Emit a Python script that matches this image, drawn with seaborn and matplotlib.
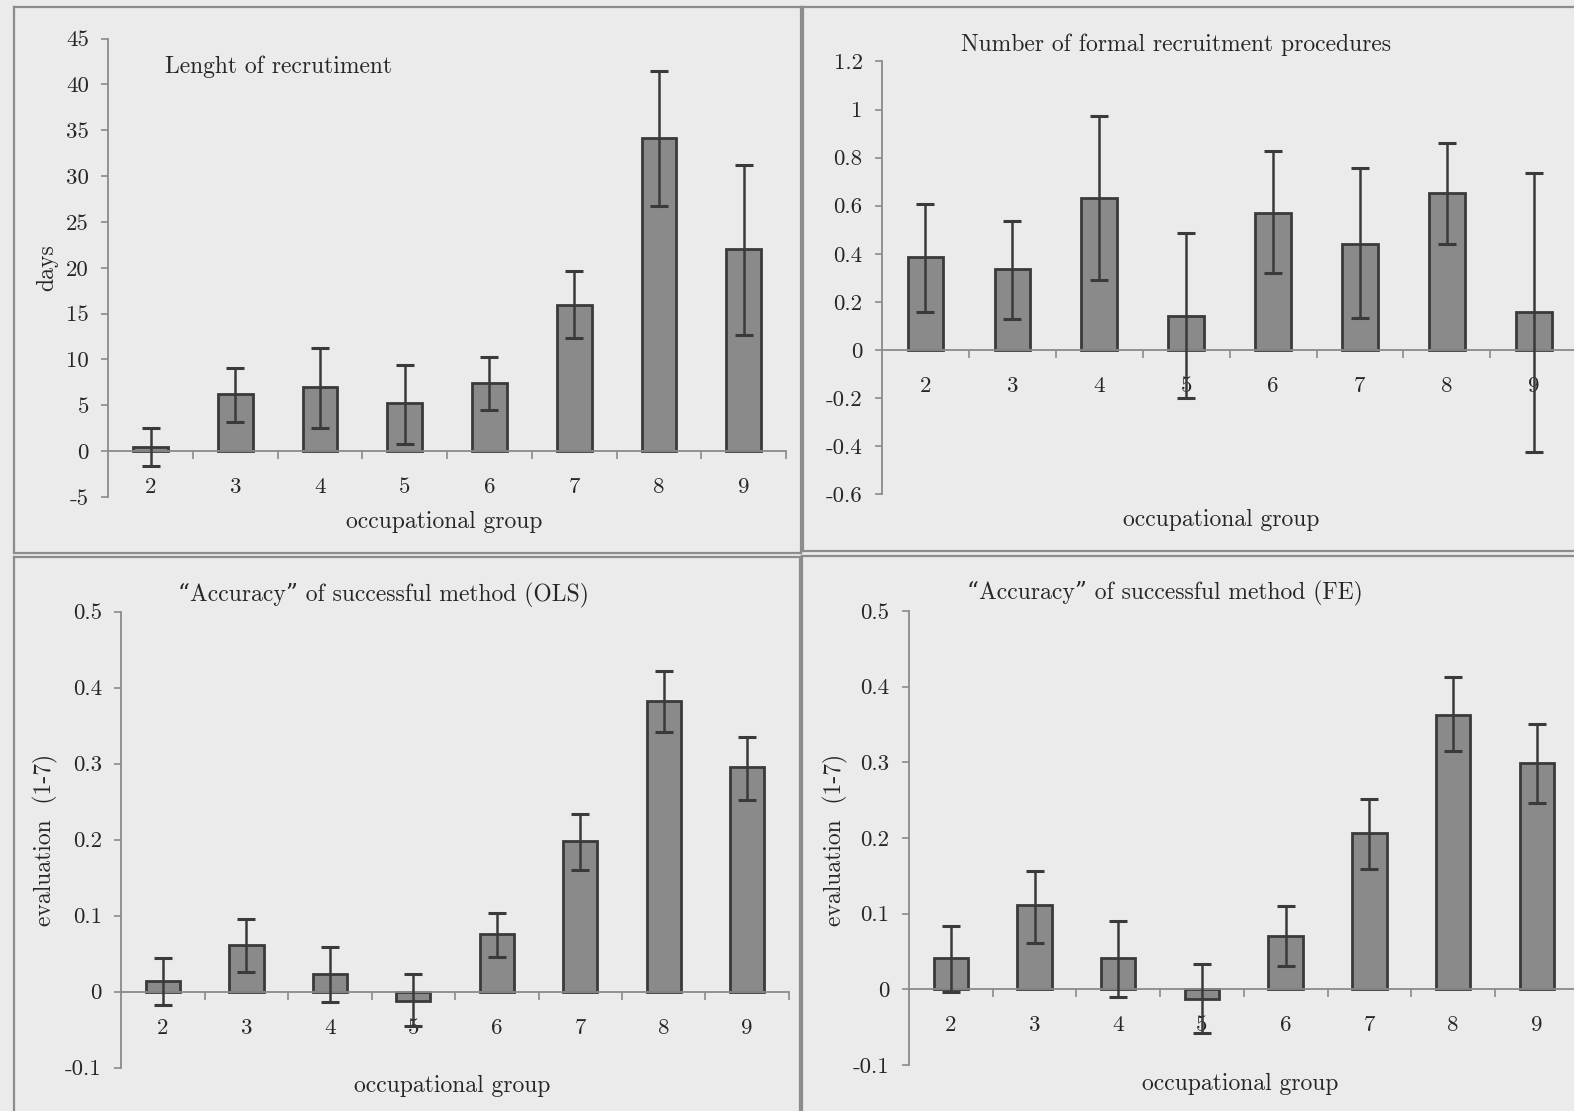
import numpy as np
import pandas as pd
import matplotlib
matplotlib.use("Agg")
import matplotlib.pyplot as plt
from matplotlib.lines import Line2D
import seaborn as sns

# ---------------- data ----------------
groups = ["2", "3", "4", "5", "6", "7", "8", "9"]

length_vals = [0.45, 6.2, 7.0, 5.25, 7.4, 15.95, 34.2, 22.0]
length_lo = [-1.65, 3.2, 2.5, 0.75, 4.5, 12.35, 26.75, 12.65]
length_hi = [2.5, 9.05, 11.3, 9.45, 10.25, 19.6, 41.5, 31.25]

formal_vals = [0.386, 0.337, 0.632, 0.142, 0.571, 0.442, 0.653, 0.157]
formal_lo = [0.16, 0.13, 0.291, -0.20, 0.321, 0.133, 0.441, -0.425]
formal_hi = [0.605, 0.537, 0.971, 0.487, 0.826, 0.756, 0.861, 0.738]

ols_vals = [0.0137, 0.062, 0.023, -0.012, 0.076, 0.198, 0.3825, 0.295]
ols_lo = [-0.018, 0.026, -0.014, -0.045, 0.046, 0.160, 0.342, 0.252]
ols_hi = [0.044, 0.095, 0.059, 0.023, 0.103, 0.234, 0.422, 0.335]

fe_vals = [0.041, 0.111, 0.041, -0.013, 0.071, 0.206, 0.363, 0.299]
fe_lo = [-0.003, 0.062, -0.010, -0.058, 0.031, 0.159, 0.315, 0.246]
fe_hi = [0.084, 0.157, 0.090, 0.034, 0.110, 0.252, 0.412, 0.350]

length_ticks = [-5, 0, 5, 10, 15, 20, 25, 30, 35, 40, 45]
length_ticklabels = ["-5", "0", "5", "10", "15", "20", "25", "30", "35", "40", "45"]
formal_ticks = [-0.6, -0.4, -0.2, 0, 0.2, 0.4, 0.6, 0.8, 1.0, 1.2]
formal_ticklabels = ["-0.6", "-0.4", "-0.2", "0", "0.2", "0.4", "0.6", "0.8", "1", "1.2"]
acc_ticks = [-0.1, 0, 0.1, 0.2, 0.3, 0.4, 0.5]
acc_ticklabels = ["-0.1", "0", "0.1", "0.2", "0.3", "0.4", "0.5"]

title_length = "Lenght of recrutiment"
title_formal = "Number of formal recruitment procedures"
title_ols = "\u201cAccuracy\u201d of successful method (OLS)"
title_fe = "\u201cAccuracy\u201d of successful method (FE)"
xlabel = "occupational group"
ylabel_days = "days"
ylabel_eval = "evaluation  (1-7)"

# ---------------- style ----------------
W, H = 1574, 1111
BG = "#ebebeb"
BAR = "#8a8a8a"
EDGE = "#3a3a3a"
AXC = "#8a8a8a"
TXT = "#262626"
FS = 16.5
FS_T = 17

plt.rcParams["font.family"] = ["cmr10", "DejaVu Serif"]
plt.rcParams["axes.unicode_minus"] = False
plt.rcParams["text.color"] = TXT

fig = plt.figure(figsize=(W / 100, H / 100), dpi=100, facecolor=BG)


def px_axes(l, t, r, b):
    ax = fig.add_axes([l / W, 1 - b / H, (r - l) / W, (b - t) / H])
    ax.set_facecolor("none")
    return ax


def ftext(x, y, s, **kw):
    fig.text(x / W, 1 - y / H, s, fontsize=FS_T, color=TXT, va="center", **kw)


def draw_panel(ax, vals, lo, hi, ylim, xmax, ticks, ticklabels):
    df = pd.DataFrame({"group": groups, "value": vals})
    sns.barplot(data=df, x="group", y="value", ax=ax, color=BAR, saturation=1,
                width=0.41, edgecolor=EDGE, linewidth=2.0, errorbar=None, zorder=2)
    v = np.array(vals)
    yerr = [v - np.array(lo), np.array(hi) - v]
    ax.errorbar(np.arange(len(groups)), v, yerr=yerr, fmt="none", ecolor=EDGE,
                elinewidth=1.8, capsize=6.5, capthick=2.2, zorder=3)
    ax.set_xlim(-0.5, xmax)
    ax.set_ylim(*ylim)
    ax.set_xlabel("")
    ax.set_ylabel("")
    for s in ["top", "right"]:
        ax.spines[s].set_visible(False)
    ax.spines["left"].set_color(AXC)
    ax.spines["left"].set_linewidth(1.3)
    ax.spines["bottom"].set_color(AXC)
    ax.spines["bottom"].set_linewidth(1.3)
    ax.spines["bottom"].set_position(("data", 0))
    ax.set_yticks(ticks)
    ax.set_yticklabels(ticklabels, fontsize=FS, color=TXT)
    ax.tick_params(axis="y", direction="out", length=5, width=1.2, color=AXC, pad=9)
    # major x ticks at category boundaries, labels at centers (minor)
    bounds = [i + 0.5 for i in range(len(groups)) if i + 0.5 <= xmax]
    ax.set_xticks(bounds)
    ax.set_xticklabels([])
    ax.set_xticks(np.arange(len(groups)), minor=True)
    ax.set_xticklabels(groups, minor=True, fontsize=FS, color=TXT)
    ax.tick_params(axis="x", which="major", direction="out", length=6, width=1.2, color=AXC)
    ax.tick_params(axis="x", which="minor", length=0, pad=19)
    ax.grid(False)


# panel 1
ax1 = px_axes(108.2, 38.6, 786, 497)
draw_panel(ax1, length_vals, length_lo, length_hi, (-5, 45), 7.5, length_ticks, length_ticklabels)
ftext(165, 67, title_length, ha="left")
ftext(47, 268, ylabel_days, ha="center", rotation=90)
ftext(444, 522, xlabel, ha="center")

# panel 2
ax2 = px_axes(882, 61.4, 1574, 494.3)
draw_panel(ax2, formal_vals, formal_lo, formal_hi, (-0.6, 1.2), -0.5 + (1574 - 882) / 86.9,
           formal_ticks, formal_ticklabels)
ftext(1176, 45, title_formal, ha="center")
ftext(1221, 520, xlabel, ha="center")

# panel 3
ax3 = px_axes(121.3, 611.5, 788.9, 1067.7)
draw_panel(ax3, ols_vals, ols_lo, ols_hi, (-0.1, 0.5), 7.5, acc_ticks, acc_ticklabels)
ftext(383, 595, title_ols, ha="center")
ftext(45, 840, ylabel_eval, ha="center", rotation=90)
ftext(452, 1086, xlabel, ha="center")

# panel 4
ax4 = px_axes(909, 610.8, 1574, 1065.2)
draw_panel(ax4, fe_vals, fe_lo, fe_hi, (-0.1, 0.5), -0.5 + (1574 - 909) / 83.7,
           acc_ticks, acc_ticklabels)
ftext(1165, 593, title_fe, ha="center")
ftext(835, 840, ylabel_eval, ha="center", rotation=90)
ftext(1240, 1084, xlabel, ha="center")

# panel frames
def fline(x0, y0, x1, y1):
    fig.add_artist(Line2D([x0 / W, x1 / W], [1 - y0 / H, 1 - y1 / H], color="#8c8c8c",
                          lw=1.6, transform=fig.transFigure))

# top-left
fline(14, 7, 801, 7); fline(14, 7, 14, 553); fline(801, 7, 801, 553); fline(14, 553, 801, 553)
# top-right
fline(803, 7, 1574, 7); fline(803, 7, 803, 551); fline(803, 551, 1574, 551)
# bottom-left
fline(14, 557, 800, 557); fline(14, 557, 14, 1111); fline(800, 557, 800, 1111)
# bottom-right
fline(802, 556, 1574, 556); fline(802, 556, 802, 1111)

fig.savefig("out.png", dpi=100, facecolor=BG)
